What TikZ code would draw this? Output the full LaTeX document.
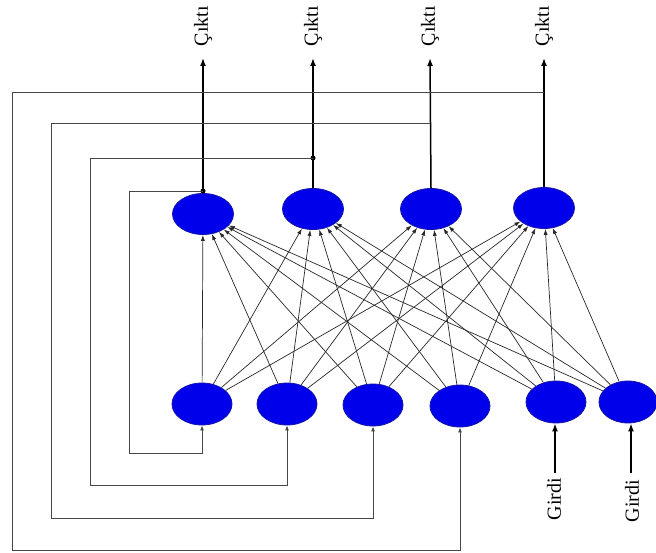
\documentclass[tikz,border=0pt]{standalone}
\usepackage{fontspec}
\setmainfont{Liberation Serif}
\usetikzlibrary{arrows.meta,shapes.geometric}
\begin{document}
\begin{tikzpicture}[x=1pt,y=-1pt,
  neuron/.style={ellipse,draw={rgb,255:red,20;green,20;blue,170},line width=0.8pt,fill={rgb,255:red,0;green,0;blue,235},minimum width=61pt,minimum height=41pt,inner sep=0pt},
  conn/.style={draw={rgb,255:red,40;green,40;blue,40},line width=0.7pt,-{Latex[length=6pt,width=4pt]}},
  fb/.style={draw={rgb,255:red,70;green,70;blue,70},line width=0.9pt},
  fbarrow/.style={fb,-{Latex[length=5pt,width=4pt]}},
  outarrow/.style={draw=black,line width=1.5pt,-{Latex[length=8pt,width=6pt]}},
  inarrow/.style={draw=black,line width=1.8pt,-{Latex[length=8pt,width=6pt]}},
  lbl/.style={rotate=90,font=\fontsize{20}{22}\selectfont,inner sep=0pt},
  dotn/.style={circle,fill=black,inner sep=0pt,minimum size=5pt}]
\useasboundingbox (0,0) rectangle (656,553);
\fill[white] (0,0) rectangle (656,553);
% top (output) neurons
\node[neuron] (t1) at (203,214) {};
\node[neuron] (t2) at (313,209) {};
\node[neuron] (t3) at (431,209) {};
\node[neuron] (t4) at (544,208) {};
% bottom neurons
\node[neuron,minimum width=60pt,minimum height=42pt] (b1) at (202,404) {};
\node[neuron,minimum width=60pt,minimum height=42pt] (b2) at (287,404) {};
\node[neuron,minimum width=60pt,minimum height=42pt] (b3) at (373,405) {};
\node[neuron,minimum width=60pt,minimum height=42pt] (b4) at (460,406) {};
\node[neuron,minimum width=60pt,minimum height=42pt] (b5) at (556,402) {};
\node[neuron,minimum width=58pt,minimum height=42pt] (b6) at (628,402) {};
% full connections
\foreach \b in {b1,b2,b3,b4,b5,b6}{
  \foreach \t in {t1,t2,t3,t4}{
    \draw[conn] (\b) -- (\t);
  }
}
% outputs
\coordinate (o1) at (203,58);
\coordinate (o2) at (313,58);
\coordinate (o3) at (430,58);
\coordinate (o4) at (544,58);
\draw[outarrow] (t1.north) -- (o1);
\draw[outarrow] (t2.north) -- (o2);
\draw[outarrow] (t3.north) -- (o3);
\draw[outarrow] (t4.north) -- (o4);
\node[lbl] (l1) at (203,26) {Çıktı};
\node[lbl] (l2) at (313,26) {Çıktı};
\node[lbl] (l3) at (430,26) {Çıktı};
\node[lbl] (l4) at (544,26) {Çıktı};
% feedback loops
\node[dotn] (d1) at (203,191) {};
\node[dotn] (d2) at (313,158) {};
\coordinate (d3) at (430,123);
\coordinate (d4) at (544,92);
\coordinate (c1) at (129,453);
\coordinate (c2) at (90,485);
\coordinate (c3) at (51,518);
\coordinate (c4) at (12,550);
\draw[fbarrow] (d1.center) -| (c1) -| (b1.south);
\draw[fbarrow] (d2.center) -| (c2) -| (b2.south);
\draw[fbarrow] (d3) -| (c3) -| (b3.south);
\draw[fbarrow] (d4) -| (c4) -| (b4.south);
% inputs
\coordinate (i1) at (555,473);
\coordinate (i2) at (631,473);
\draw[inarrow] (i1) -- (i1 |- b5.south);
\draw[inarrow] (i2) -- (i2 |- b6.south);
\node[lbl] (g1) at (554,499) {Girdi};
\node[lbl] (g2) at (632,501) {Girdi};
\end{tikzpicture}
\end{document}
